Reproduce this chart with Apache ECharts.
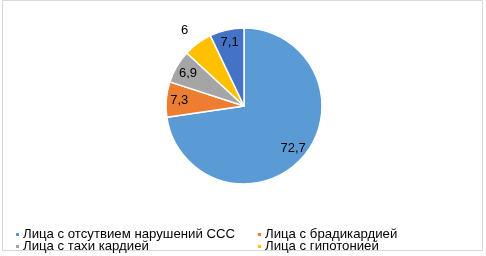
<!DOCTYPE html>
<html><head><meta charset="utf-8">
<script src="https://cdn.jsdelivr.net/npm/echarts@6/dist/echarts.min.js"></script>
<style>html,body{margin:0;padding:0;background:#fff}#c{width:486px;height:256px}</style>
</head><body><div id="c"></div>
<script>
const categories = ['Лица с отсутвием нарушений ССС','Лица с брадикардией','Лица с тахи кардией','Лица с гипотонией','Лица с гипертонией'];
const values = [72.7, 7.3, 6.9, 6, 7.1];
const colors = ['#5b9bd5','#ed7d31','#a5a5a5','#ffc000','#4472c4'];
const legendItems = [0,1,2,3];

const chart = echarts.init(document.getElementById('c'), null, {renderer:'canvas'});
const legendPos = [[14,228],[256,228],[14,240],[256,240]];
const fmt = v => String(v).replace('.', ',');
const font = 'Liberation Sans, Arial';
chart.setOption({
  animation:false,
  color: colors,
  graphic:[{type:'rect', shape:{x:2.5,y:0.5,width:480,height:250}, style:{fill:'none',stroke:'#d9d9d9',lineWidth:1}, silent:true}],
  legend: legendItems.map((i,k)=>({
    data:[categories[i]], left:legendPos[k][0], top:legendPos[k][1],
    itemWidth:5, itemHeight:5, itemGap:4, icon:'rect', padding:0,
    textStyle:{fontFamily:font, fontSize:13.2, color:'#000', padding:[0,0,0,-2]}
  })),
  series:[{
    type:'pie', startAngle:90, clockwise:true,
    center:[244,106], radius:[0,78],
    itemStyle:{borderColor:'#fff', borderWidth:1.5},
    label:{show:false},
    labelLine:{show:false},
    data: categories.map((n,i)=>({name:n, value:values[i]}))
  },{
    type:'pie', startAngle:90, clockwise:true, silent:true,
    center:[244,106], radius:[46,78],
    itemStyle:{color:'rgba(0,0,0,0)', borderWidth:0},
    label:{show:true, position:'inside', fontFamily:font, fontSize:13, color:'#000',
      formatter:p=>fmt(p.value)},
    labelLine:{show:false, length:16, length2:0},
    data: categories.map((n,i)=>{
      const d = {name:n, value:values[i]};
      if (i===3) d.label = {position:'outside', distanceToLabelLine:0, alignTo:'none'};
      return d;
    })
  }]
});
</script></body></html>
